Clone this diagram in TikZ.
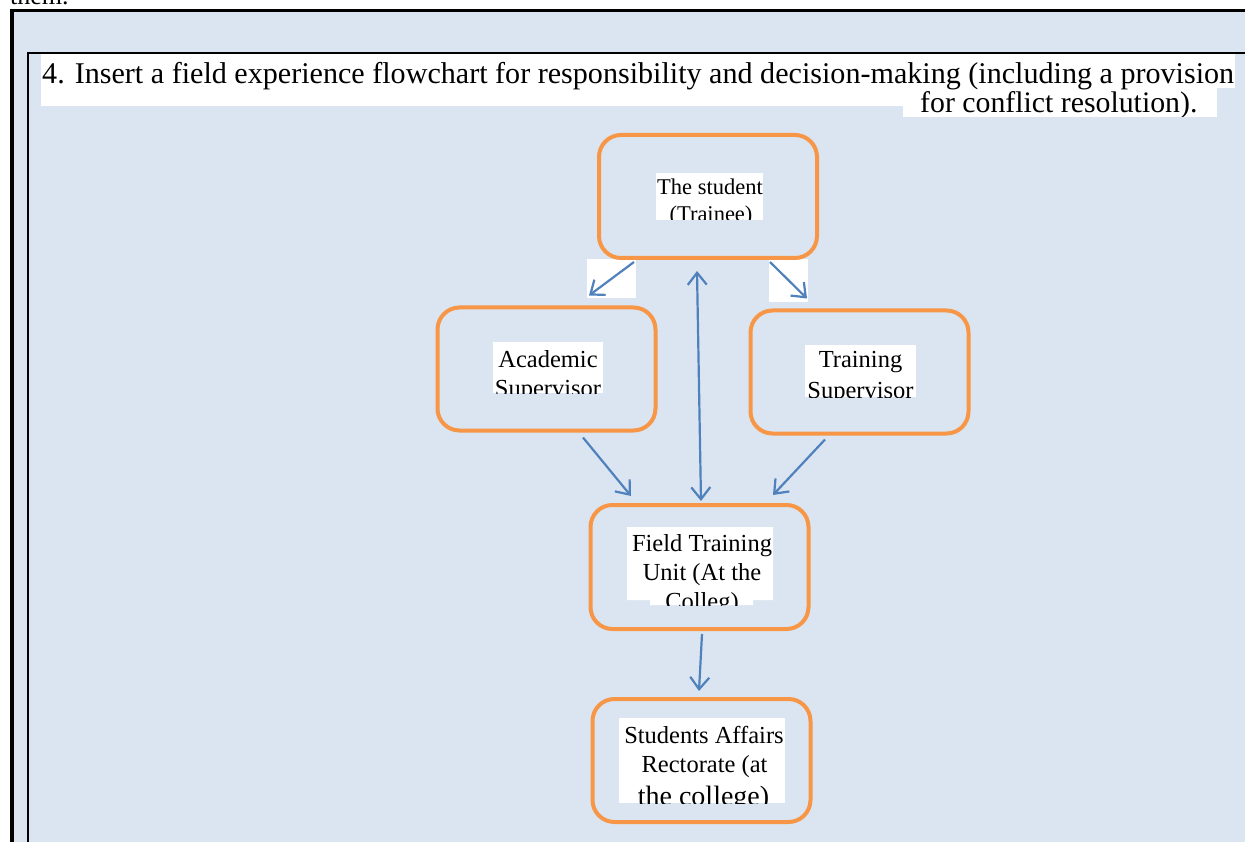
\documentclass[tikz,border=0pt]{standalone}
\usepackage{fontspec}
\setmainfont{Liberation Serif}
\usetikzlibrary{arrows.meta,calc}
\definecolor{bgblue}{HTML}{DBE5F1}
\definecolor{boxorange}{HTML}{F79646}
\definecolor{arrowblue}{HTML}{4F81BD}
\begin{document}
\begin{tikzpicture}[x=1pt,y=-1pt,
  flowbox/.style={draw=boxorange, line width=4pt, rounded corners=22pt,
    minimum width=218pt, minimum height=123pt, inner sep=0pt},
  lbl/.style={anchor=base, inner sep=0pt, font=\fontsize{24.5}{29}\selectfont},
  smalllbl/.style={anchor=base, inner sep=0pt, font=\fontsize{22.5}{26}\selectfont},
  titlelbl/.style={anchor=base west, inner sep=0pt, font=\fontsize{29.8}{34}\selectfont},
  conn/.style={draw=arrowblue, line width=2.2pt, -{Straight Barb[length=12pt,width=19pt]}},
  dconn/.style={draw=arrowblue, line width=2.2pt, {Straight Barb[length=12pt,width=19pt]}-{Straight Barb[length=12pt,width=19pt]}}]
\useasboundingbox (0,0) rectangle (1245,842);
\fill[white] (0,0) rectangle (1245,842);
% frame
\fill[bgblue] (14,12) rectangle (1250,850);
\fill[black] (10,9.5) rectangle (14,850);
\fill[black] (10,9.5) rectangle (1250,12.3);
\fill[black] (27,52) rectangle (29.3,850);
\fill[black] (27,52) rectangle (1250,54.3);
% cut-off previous text
\node[titlelbl, font=\fontsize{26}{30}\selectfont] (prevtext) at (10,5) {them.};
% title
\fill[white] (41,54.3) rectangle (1235,88);
\fill[white] (41,88) rectangle (903,106);
\fill[white] (903,88) rectangle (1217,117);
\node[titlelbl, font=\fontsize{30.1}{34}\selectfont] (title1) at (42,83.5) {4. Insert a field experience flowchart for responsibility and decision-making (including a provision};
\begin{scope}
\clip (903,88) rectangle (1217,117);
\node[titlelbl] (title2) at (920,113) {for conflict resolution).};
\end{scope}
% white patches behind top arrows
\fill[white] (587,259) rectangle (636,298);
\fill[white] (769,259) rectangle (808,302);
% boxes
\node[flowbox] (stud) at (708,196.5) {};
\node[flowbox] (acad) at (546.5,369) {};
\node[flowbox] (train) at (859.5,372) {};
\node[flowbox, minimum height=124pt] (ftu) at (699.5,567) {};
\node[flowbox] (sa) at (701.5,760.5) {};
% texts
\begin{scope}
\clip (656,173) rectangle (763,220);
\fill[white] (656,173) rectangle (763,220);
\node[smalllbl] (studA) at (710,195) {The student};
\node[smalllbl] (studB) at (711,221.5) {(Trainee)};
\end{scope}
\begin{scope}
\clip (493,342) rectangle (603,393);
\fill[white] (493,342) rectangle (603,393);
\node[lbl] (acadA) at (548,367) {Academic};
\node[lbl] (acadB) at (548,396) {Supervisor};
\end{scope}
\begin{scope}
\clip (805,345) rectangle (916,397);
\fill[white] (805,345) rectangle (916,397);
\node[lbl] (trainA) at (860.5,367.5) {Training};
\node[lbl] (trainB) at (860.5,398.5) {Supervisor};
\end{scope}
\begin{scope}
\clip (627,527) rectangle (773,600) (650,599) rectangle (753,605);
\fill[white] (627,527) rectangle (773,600) (650,599) rectangle (753,605);
\node[lbl] (ftuA) at (702,551) {Field Training};
\node[lbl] (ftuB) at (702,580) {Unit (At the};
\node[lbl] (ftuC) at (702,609) {Colleg)};
\end{scope}
\begin{scope}
\clip (619,718) rectangle (785,803);
\fill[white] (619,718) rectangle (785,803);
\node[lbl] (saA) at (704,743) {Students Affairs};
\node[lbl] (saB) at (704.5,772) {Rectorate (at};
\node[lbl, font=\fontsize{28}{32}\selectfont] (saC) at (703.5,805) {the college)};
\end{scope}
% connectors
\draw[conn] ($(stud.south)+(-74,2)$) -- ($(acad.north)+(42.5,-10)$);
\draw[conn] ($(stud.south)+(62,2)$) -- ($(train.north)+(-52.5,-10)$);
\draw[dconn] ($(stud.south)+(-11,11)$) -- ($(ftu.north)+(1.5,-2)$);
\draw[conn] ($(acad.south)+(36.5,5)$) -- ($(ftu.north)+(-68.5,-7)$);
\draw[conn] ($(train.south)+(-34.5,4)$) -- ($(ftu.north)+(73.5,-8)$);
\draw[conn] ($(ftu.south)+(2.5,3)$) -- ($(sa.north)+(-2.5,-6)$);
\end{tikzpicture}
\end{document}
